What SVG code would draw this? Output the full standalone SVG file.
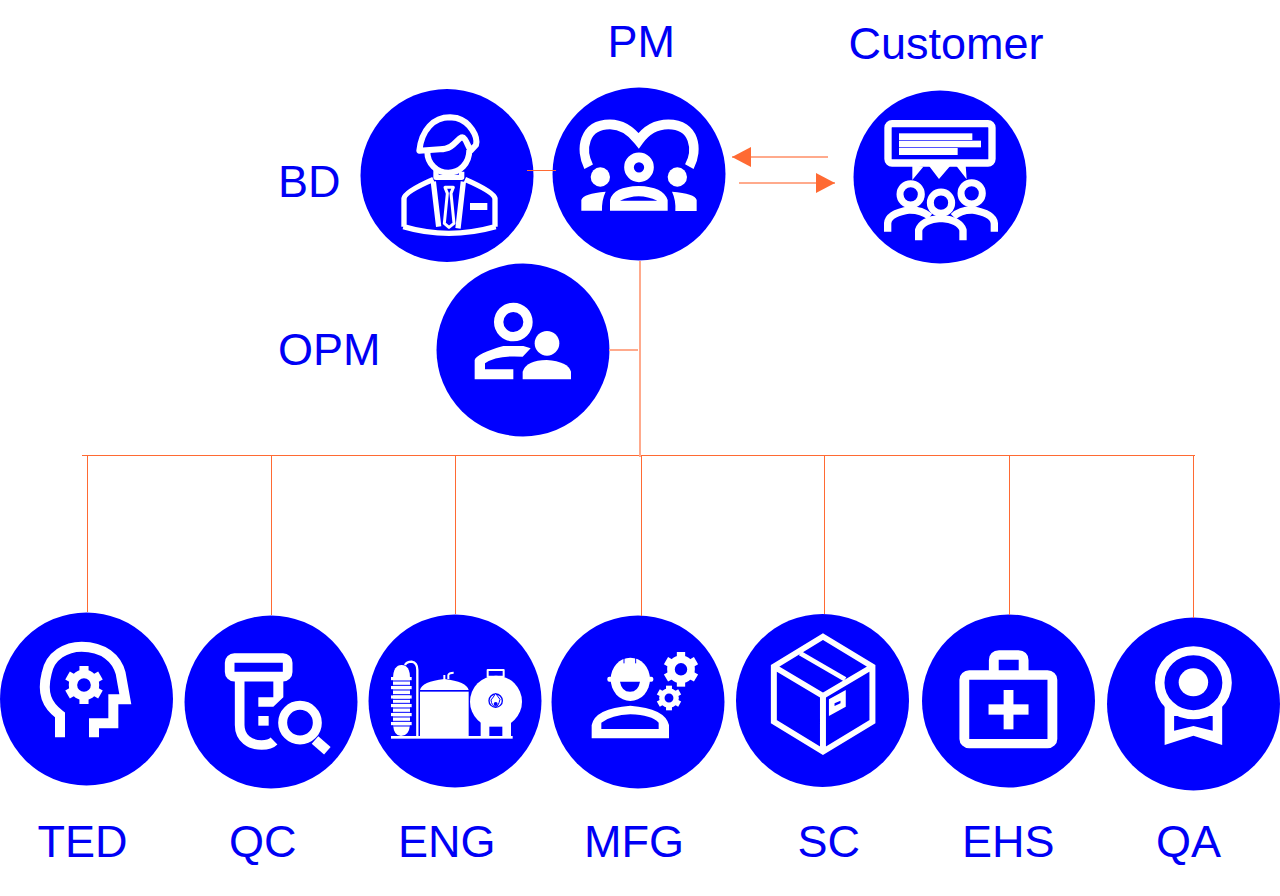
<svg xmlns="http://www.w3.org/2000/svg" xmlns:xlink="http://www.w3.org/1999/xlink" width="1280" height="896" viewBox="0 0 1280 896">
<style>
text{font-family:"Liberation Sans",Arial,sans-serif;font-size:45px;fill:#0000f5}
.disc{fill:#0000ff}
.w{fill:#fff}
.b{fill:#0000ff}
.s{fill:none;stroke:#fff;stroke-linejoin:round}
.c{fill:none;stroke:#ff6a33;stroke-width:1}
.p{fill:none;stroke:#ffaa8c;stroke-width:2}
</style>
<defs>
<marker id="head" markerUnits="userSpaceOnUse" markerWidth="19" markerHeight="20" refX="19" refY="10" orient="auto"><path d="M0 0L19 10L0 20Z" fill="#ff6a33"/></marker>
<g id="gear"><circle r="29" fill="none" stroke="#fff" stroke-width="22"/><g fill="#fff"><rect x="-12" y="-50" width="24" height="20"/><rect x="-12" y="-50" width="24" height="20" transform="rotate(60)"/><rect x="-12" y="-50" width="24" height="20" transform="rotate(120)"/><rect x="-12" y="-50" width="24" height="20" transform="rotate(180)"/><rect x="-12" y="-50" width="24" height="20" transform="rotate(240)"/><rect x="-12" y="-50" width="24" height="20" transform="rotate(300)"/></g></g>
</defs>
<rect width="1280" height="896" fill="#fff"/>

<g id="node-bd"><circle class="disc" cx="447" cy="175.500" r="86.500"/>
<g transform="translate(350,80) scale(.33333)">
<path class="s" stroke-width="18" d="M232 215C232 250 260 278 295 278C330 278 358 250 358 210"/>
<path class="s" stroke-width="18" d="M208 212C215 150 250 112 300 112L320 114C360 125 385 170 378 195L362 212C350 190 345 170 335 172C320 178 310 208 270 208Z"/>
<path class="s" stroke-width="16" d="M258 270V292H335V275M162 440V355Q165 335 250 298M435 440V355Q430 335 345 298M160 440Q295 480 437 440M250 305L266 440M340 305L324 445"/>
<path class="s" stroke-width="9" d="M285 322H310L303 340L312 430L297 442L283 430L292 340Z"/>
<rect class="w" x="360" y="369" width="52" height="21"/>
</g></g>

<g id="node-pm"><circle class="disc" cx="639" cy="174" r="86.500"/>
<g transform="translate(350,80) scale(.33333)">
<path class="s" style="stroke-linejoin:miter" stroke-width="29" d="M716 260C690 210 700 133 780 133C820 133 845 155 866 182C885 155 915 133 955 133C1035 133 1045 210 1018 260"/>
<circle cx="867" cy="262" r="30" fill="none" stroke="#fff" stroke-width="29"/>
<circle class="w" cx="751" cy="291" r="29"/><circle class="w" cx="982" cy="291" r="29"/>
<path class="w" fill-rule="evenodd" d="M780 392V360Q790 320 866 318Q940 320 953 360V392ZM810 362H922Q866 335 810 362Z"/>
<path class="w" d="M694 392V360Q700 340 767 335Q755 360 756 392ZM966 335Q1035 340 1040 360V393H976Q978 360 966 335Z"/>
</g></g>

<g id="node-customer"><circle class="disc" cx="940" cy="177" r="86.500"/>
<g transform="translate(725,85) scale(.33333)">
<rect class="s" x="489" y="116" width="312" height="118" rx="12" stroke-width="22"/>
<rect class="w" x="522" y="145" width="220" height="20"/><rect class="w" x="522" y="167" width="246" height="20"/><rect class="w" x="522" y="189" width="176" height="21"/>
<path class="w" d="M562 240V285L595 245ZM610 240L642 282L678 240ZM692 240L725 283L722 240Z"/>
<circle cx="557" cy="328" r="32" fill="none" stroke="#fff" stroke-width="21"/><circle cx="740" cy="325" r="32" fill="none" stroke="#fff" stroke-width="21"/>
<path class="s" stroke-width="22" d="M488 440V415Q490 385 555 375Q590 375 615 395M808 440V415Q805 385 740 375Q705 375 685 395"/>
<circle cx="648" cy="353" r="32" fill="none" stroke="#fff" stroke-width="21"/>
<path class="s" stroke-width="22" d="M581 466V435Q590 405 648 400Q705 405 714 435V466"/>
</g></g>

<g id="node-opm"><circle class="disc" cx="523" cy="350" r="86.500"/>
<g transform="translate(430,260) scale(.33333)">
<circle cx="250" cy="186" r="44" fill="none" stroke="#fff" stroke-width="28"/>
<circle class="w" cx="351" cy="250" r="37"/>
<path class="w" d="M134 358V300Q140 280 220 258H280L302 265L278 290Q200 285 165 310V328H250V358Z"/>
<path class="w" d="M278 358V335Q290 300 350 300Q415 305 423 335V358Z"/>
</g></g>

<g id="node-ted"><circle class="disc" cx="86.500" cy="699" r="86.500"/>
<g transform="translate(0,610) scale(.33333)">
<path class="s" stroke-width="30" style="stroke-linejoin:miter" d="M180 382V315C140 285 125 250 140 190C150 135 200 110 245 110C310 110 350 145 362 190L376 268H340V340H282V382"/>
<use xlink:href="#gear" href="#gear" transform="translate(252,225) scale(1.14)"/>
</g></g>

<g id="node-qc"><circle class="disc" cx="271" cy="702" r="86.500"/>
<g transform="translate(0,610) scale(.33333)">
<rect class="s" x="689" y="144" width="174" height="56" rx="14" stroke-width="29"/>
<path class="s" stroke-width="29" d="M719 213V345C719 385 750 405 785 405C800 405 815 400 822 393"/>
<path class="w" d="M820 213H850V262L820 290H775V262H820Z"/>
<rect class="w" x="775" y="318" width="31" height="29"/>
<circle cx="900" cy="338" r="52" fill="none" stroke="#fff" stroke-width="27"/>
<path class="s" stroke-width="30" d="M945 390L982 422"/>
</g></g>

<g id="node-eng"><circle class="disc" cx="455" cy="701" r="86.500"/>
<g transform="translate(365,610) scale(.33333)">
<path class="w" d="M84 205Q85 165 110 165Q135 165 135 205V345Q132 378 108 378Q87 378 84 345Z"/>
<g class="w"><rect x="78" y="201" width="62" height="10"/><rect x="78" y="228" width="62" height="10"/><rect x="78" y="256" width="62" height="10"/><rect x="78" y="282" width="62" height="10"/><rect x="78" y="309" width="62" height="10"/><rect x="78" y="336" width="62" height="10"/></g>
<path d="M78 213H140M78 226H140M78 240H140M78 254H140M78 268H140M78 280H140M78 294H140M78 307H140M78 321H140M78 334H140M78 348H140" stroke="#0000ff" stroke-width="3"/>
<path class="s" stroke-width="7" d="M120 165Q125 155 140 155Q157 158 157 180V378"/>
<path class="w" d="M165 240Q170 215 238 207Q305 215 311 240Z"/><rect class="w" x="165" y="245" width="146" height="133"/>
<path class="s" stroke-width="6" d="M238 210V195M250 207V195Q252 188 266 188"/>
<circle class="w" cx="393" cy="275" r="78"/><rect class="s" x="368" y="180" width="48" height="20" stroke-width="6"/>
<rect class="w" x="347" y="330" width="91" height="50"/><rect class="b" x="373" y="350" width="39" height="28"/>
<circle cx="392" cy="272" r="20" fill="none" stroke="#0000ff" stroke-width="4"/><path d="M392 250Q400 262 405 268Q400 290 392 290Q380 288 378 270Q385 262 392 250Z" fill="#fff" stroke="#0000ff" stroke-width="3"/><circle class="b" cx="392" cy="282" r="6"/>
<rect class="w" x="78" y="378" width="365" height="8"/>
</g></g>

<g id="node-mfg"><circle class="disc" cx="638" cy="702" r="86.500"/>
<g transform="translate(365,610) scale(.33333)">
<ellipse class="w" cx="796" cy="208" rx="59" ry="65"/><rect class="w" x="727" y="200" width="138" height="15" rx="6"/>
<path class="b" d="M765 215H825Q820 245 795 245Q770 245 765 215Z"/>
<path d="M777 141V160M812 141V160" stroke="#0000ff" stroke-width="3"/>
<path class="w" fill-rule="evenodd" d="M680 385V345Q690 295 796 287Q900 295 912 345V385ZM709 357H881V338Q860 315 796 313Q740 315 709 338Z"/>
<use xlink:href="#gear" href="#gear" transform="translate(948,178) scale(1.04)"/>
<use xlink:href="#gear" href="#gear" transform="translate(912,264) scale(.74)"/>
</g></g>

<g id="node-sc"><circle class="disc" cx="822.500" cy="700.500" r="86.500"/>
<g transform="translate(730,610) scale(.3508,.33333)">
<path class="s" stroke-width="17" style="stroke-linejoin:miter" d="M265 80L406 170V335L265 425L125 335V170ZM125 170L265 258L406 170M265 258V425"/>
<path class="s" stroke-width="14" d="M200 130L328 208"/>
<path class="w" fill-rule="evenodd" d="M282 268L330 240V290L282 318ZM298 280V288L315 280V272Z"/>
</g></g>

<g id="node-ehs"><circle class="disc" cx="1008.500" cy="701" r="86.500"/>
<g transform="translate(730,610) scale(.3508,.33333)">
<rect class="s" x="668" y="195" width="251" height="206" rx="14" stroke-width="28"/>
<path class="s" stroke-width="28" d="M752 195V150Q752 135 767 135H822Q837 135 837 150V195"/>
<rect class="w" x="737" y="283" width="114" height="31"/><rect class="w" x="780" y="240" width="28" height="118"/>
</g></g>

<g id="node-qa"><circle class="disc" cx="1193.500" cy="704" r="86.500"/>
<g transform="translate(730,610) scale(.3508,.33333)">
<path class="w" fill-rule="evenodd" d="M1239 280V405L1321 377L1403 405V280ZM1266 318V362L1321 348L1376 362V318Z"/>
<circle cx="1321" cy="218" r="96" fill="#0000ff" stroke="#fff" stroke-width="27"/>
<circle class="w" cx="1321" cy="217" r="42"/>
</g></g>

<g id="connectors">
<path class="c" d="M82 455.500H1195M87.500 456V612M271.500 456V615M455.500 456V614M641.500 456V616M824.500 456V614M1009.500 456V615M1193.500 456V618M527 170.500H556"/>
<path class="p" d="M640 261V457M609 350H638"/>
<path class="p" marker-end="url(#head)" d="M828 157H732"/>
<path class="p" marker-end="url(#head)" d="M739 183H835"/>
</g>

<g id="labels">
<text x="607.500" y="57">PM</text>
<text x="848.500" y="59">Customer</text>
<text x="278" y="197">BD</text>
<text x="278" y="365">OPM</text>
<text x="37.500" y="857">TED</text>
<text x="229" y="857">QC</text>
<text x="398" y="857">ENG</text>
<text x="584" y="857">MFG</text>
<text x="797.500" y="857">SC</text>
<text x="962" y="857">EHS</text>
<text x="1156" y="857">QA</text>
</g>
</svg>
